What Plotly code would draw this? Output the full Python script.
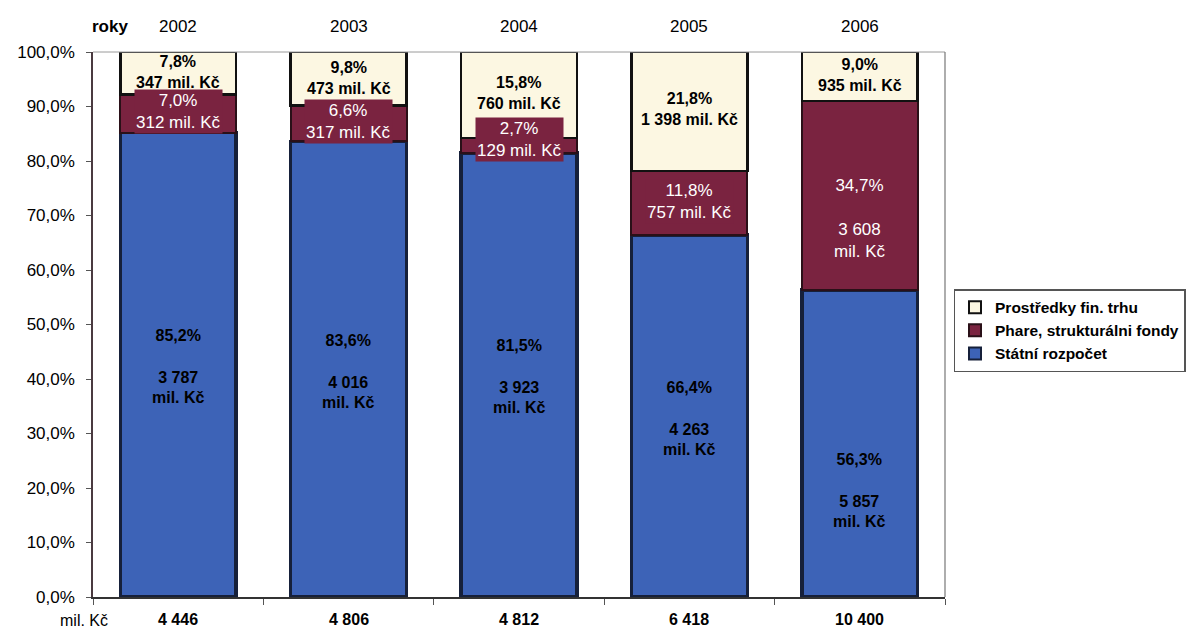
import plotly.graph_objects as go

# Financing structure per year
years = ["2002", "2003", "2004", "2005", "2006"]
totals = ["4 446", "4 806", "4 812", "6 418", "10 400"]

state_pct = [85.2, 83.6, 81.5, 66.4, 56.3]
state_mil = ["3 787", "4 016", "3 923", "4 263", "5 857"]

phare_pct = [7.0, 6.6, 2.7, 11.8, 34.7]
phare_mil = ["312", "317", "129", "757", "3 608"]

market_pct = [7.8, 9.8, 15.8, 21.8, 9.0]
market_mil = ["347", "473", "760", "1 398", "935"]

BLUE = "#3d63b7"
RED = "#7a2340"
CREAM = "#fcf7e2"
EDGE = "#16203a"
FONT = "Liberation Sans, Arial, sans-serif"


def fmt(v):
    return f"{v:.1f}".replace(".", ",") + "%"


fig = go.Figure()
fig.add_trace(go.Bar(x=years, y=state_pct, name="Státní rozpočet",
                     marker=dict(color=BLUE, line=dict(color=EDGE, width=3.5))))
fig.add_trace(go.Bar(x=years, y=phare_pct, name="Phare, strukturálni fondy",
                     marker=dict(color=RED, line=dict(color="#2a1018", width=2))))
fig.add_trace(go.Bar(x=years, y=market_pct, name="Prostředky fin. trhu",
                     marker=dict(color=CREAM, line=dict(color="#111111", width=2.5))))

annotations = []
# pixel offsets of the label blocks inside their segments
state_shift = [-2, -2, -2, -2, -47]
phare_shift = [2, 2, 6, 1, -23]
market_shift = [1, 1, 2, 2, 2]

for i, yr in enumerate(years):
    s, p, m = state_pct[i], phare_pct[i], market_pct[i]
    annotations.append(dict(
        x=i, y=s / 2, yshift=state_shift[i], showarrow=False,
        text=f"<b>{fmt(s)}<br><br>{state_mil[i]}<br>mil. Kč</b>",
        font=dict(family=FONT, size=16, color="#000000")))
    pl = f"{fmt(p)}<br><br>{phare_mil[i]}<br>mil. Kč" if i == 4 else f"{fmt(p)}<br>{phare_mil[i]} mil. Kč"
    annotations.append(dict(
        x=i, y=s + p / 2, yshift=phare_shift[i], showarrow=False, text=pl,
        bgcolor=RED if i < 4 else None, borderpad=1,
        font=dict(family=FONT, size=17, color="#ffffff")))
    annotations.append(dict(
        x=i, y=s + p + m / 2, yshift=market_shift[i], showarrow=False,
        text=f"<b>{fmt(m)}<br>{market_mil[i]} mil. Kč</b>",
        font=dict(family=FONT, size=16, color="#000000")))
    # year header above each bar
    annotations.append(dict(
        x=i, y=1, yref="paper", yanchor="bottom", yshift=14, showarrow=False,
        text=yr, font=dict(family=FONT, size=17, color="#000000")))
    # total amount below each bar
    annotations.append(dict(
        x=i, y=0, yref="paper", yanchor="top", yshift=-12, showarrow=False,
        text=f"<b>{totals[i]}</b>", font=dict(family=FONT, size=16, color="#000000")))

annotations.append(dict(
    x=-0.004, xref="paper", y=1, yref="paper", yanchor="bottom", yshift=14,
    showarrow=False, text="<b>roky</b>", font=dict(family=FONT, size=17, color="#000000")))
annotations.append(dict(
    x=-0.011, xref="paper", y=0, yref="paper", yanchor="top", yshift=-13,
    xanchor="center", showarrow=False, text="mil. Kč",
    font=dict(family=FONT, size=16, color="#000000")))

fig.update_layout(
    barmode="stack",
    bargap=0.32,
    width=1201, height=629,
    margin=dict(l=93, r=256, t=52, b=32),
    paper_bgcolor="#ffffff",
    plot_bgcolor="#ffffff",
    separators=", ",
    showlegend=True,
    legend=dict(
        x=1.01, xanchor="left", y=0.565, yanchor="top",
        traceorder="reversed",
        bordercolor="#555555", borderwidth=1.5,
        bgcolor="#ffffff",
        font=dict(family=FONT, size=15.5, color="#000000", weight=700),
        itemsizing="constant",
        itemwidth=30,
        tracegroupgap=0,
    ),
    annotations=annotations,
    font=dict(family=FONT, color="#000000"),
)

fig.update_xaxes(
    type="category",
    range=[-0.5, len(years) - 0.5],
    showticklabels=False,
    showline=True, linecolor="#333333", linewidth=1.5,
    ticks="outside", tickson="boundaries", ticklen=6, tickcolor="#555555",
    showgrid=False, zeroline=False,
)
fig.update_yaxes(
    range=[0, 100],
    dtick=10,
    tickformat=".1f",
    ticksuffix="%",
    ticks="outside", ticklen=5, tickcolor="#555555",
    ticklabelstandoff=8,
    showline=True, linecolor="#4a3a40", linewidth=1.5,
    showgrid=False, zeroline=False,
    tickfont=dict(family=FONT, size=17, color="#000000"),
)

# thin frame along the top and right of the plotting area
fig.add_shape(type="line", xref="paper", yref="paper", x0=0, x1=1, y0=1, y1=1,
              line=dict(color="#9a9a9a", width=1))
fig.add_shape(type="line", xref="paper", yref="paper", x0=1, x1=1, y0=0, y1=1,
              line=dict(color="#777777", width=1.2))

fig.write_html("out.html")
